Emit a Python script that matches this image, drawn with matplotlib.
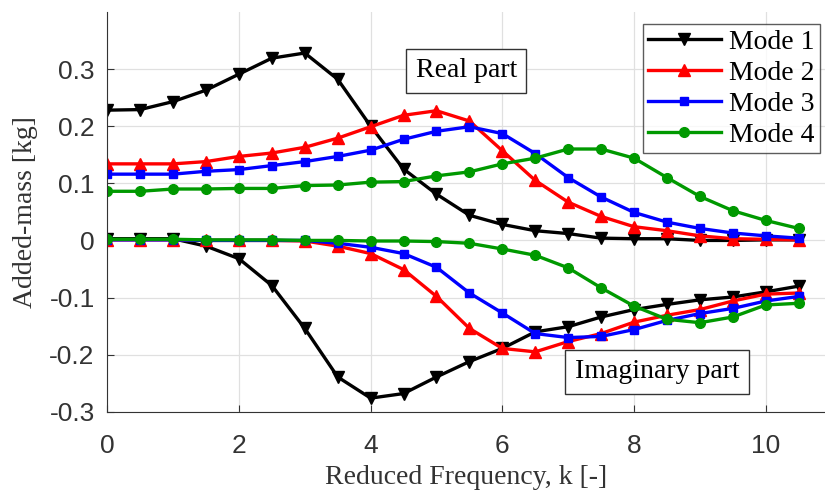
import numpy as np
import matplotlib.pyplot as plt

# Reduced frequency
k = np.arange(0, 11, 0.5)

# Real part
re_m1 = [0.228, 0.229, 0.243, 0.263, 0.291, 0.319, 0.328, 0.282, 0.200, 0.125, 0.081,
         0.044, 0.028, 0.017, 0.012, 0.004, 0.003, 0.003, 0.000, 0.000, 0.001, 0.001]
re_m2 = [0.134, 0.134, 0.134, 0.138, 0.147, 0.153, 0.163, 0.179, 0.199, 0.219, 0.227,
         0.209, 0.157, 0.105, 0.067, 0.042, 0.024, 0.017, 0.008, 0.003, 0.002, 0.001]
re_m3 = [0.116, 0.116, 0.116, 0.121, 0.124, 0.131, 0.138, 0.147, 0.158, 0.177, 0.191,
         0.199, 0.187, 0.152, 0.110, 0.076, 0.049, 0.032, 0.021, 0.013, 0.008, 0.004]
re_m4 = [0.086, 0.086, 0.090, 0.090, 0.091, 0.091, 0.096, 0.097, 0.102, 0.103, 0.113,
         0.120, 0.134, 0.144, 0.160, 0.160, 0.144, 0.110, 0.077, 0.052, 0.035, 0.021]

# Imaginary part
im_m1 = [0.003, 0.003, 0.003, -0.010, -0.032, -0.079, -0.154, -0.239, -0.276, -0.268, -0.239,
         -0.212, -0.189, -0.160, -0.151, -0.134, -0.121, -0.112, -0.104, -0.099, -0.090, -0.080]
im_m2 = [0.001, 0.001, 0.001, 0.000, 0.000, 0.000, -0.001, -0.010, -0.023, -0.051, -0.098,
         -0.154, -0.189, -0.195, -0.177, -0.163, -0.143, -0.131, -0.121, -0.106, -0.094, -0.092]
im_m3 = [0.001, 0.001, 0.001, 0.000, 0.000, 0.000, 0.000, -0.005, -0.012, -0.023, -0.047,
         -0.092, -0.127, -0.163, -0.170, -0.168, -0.156, -0.140, -0.128, -0.119, -0.106, -0.098]
im_m4 = [0.002, 0.002, 0.002, 0.001, 0.001, 0.001, 0.000, 0.000, -0.001, -0.001, -0.002,
         -0.005, -0.015, -0.026, -0.048, -0.083, -0.115, -0.138, -0.144, -0.134, -0.113, -0.110]

labels = ['Mode 1', 'Mode 2', 'Mode 3', 'Mode 4']
colors = ['black', '#ff0000', '#0000ff', '#009900']
markers = ['v', '^', 's', 'o']
msizes = [8, 8, 6, 7]

fig = plt.figure(figsize=(8.25, 4.95), dpi=100)
ax = fig.add_axes([0.130, 0.168, 0.87, 0.808])

for re, im, lab, c, m, ms in zip([re_m1, re_m2, re_m3, re_m4], [im_m1, im_m2, im_m3, im_m4],
                                 labels, colors, markers, msizes):
    ax.plot(k, re, color=c, marker=m, ms=ms, lw=2.4, label=lab)
    ax.plot(k, im, color=c, marker=m, ms=ms, lw=2.4)

ax.set_xlim(0, 10.9)
ax.set_ylim(-0.3, 0.4)
ax.set_xticks([0, 2, 4, 6, 8, 10])
ax.set_yticks([-0.3, -0.2, -0.1, 0, 0.1, 0.2, 0.3])
ax.set_yticklabels(['-0.3', '-0.2', '-0.1', '0', '0.1', '0.2', '0.3'])
ax.grid(True, color='#e0e0e0', lw=0.9)
ax.set_axisbelow(True)
for s in ['top', 'right']:
    ax.spines[s].set_visible(False)
ax.spines['left'].set_color('#333333')
ax.spines['bottom'].set_color('#333333')
ax.tick_params(direction='in', length=5, labelsize=19, colors='#333333', pad=9)
ax.tick_params(axis='x', pad=16)
for t in ax.get_xticklabels() + ax.get_yticklabels():
    t.set_fontfamily('Liberation Sans')

ax.set_xlabel('Reduced Frequency, k [-]', fontsize=20, family='Liberation Serif',
              color='#333333', labelpad=5)
ax.set_ylabel('Added-mass [kg]', fontsize=20, family='Liberation Serif',
              color='#333333', labelpad=8)

box = dict(boxstyle='square,pad=0.35', fc='white', ec='#333333', lw=1)
ax.text(5.45, 0.297, 'Real part', fontsize=20, family='Liberation Serif', bbox=box,
        ha='center', va='center')
ax.text(8.35, -0.230, 'Imaginary part', fontsize=20, family='Liberation Serif', bbox=box,
        ha='center', va='center')

leg = ax.legend(loc='upper right', bbox_to_anchor=(0.993, 0.97),
                prop={'family': 'Liberation Serif', 'size': 20}, frameon=True, fancybox=False,
                handlelength=2.6, borderpad=0.2, labelspacing=0.2, handletextpad=0.3,
                borderaxespad=0)
leg.get_frame().set_edgecolor('#333333')
leg.get_frame().set_linewidth(1)

fig.savefig('out.png', dpi=100)
